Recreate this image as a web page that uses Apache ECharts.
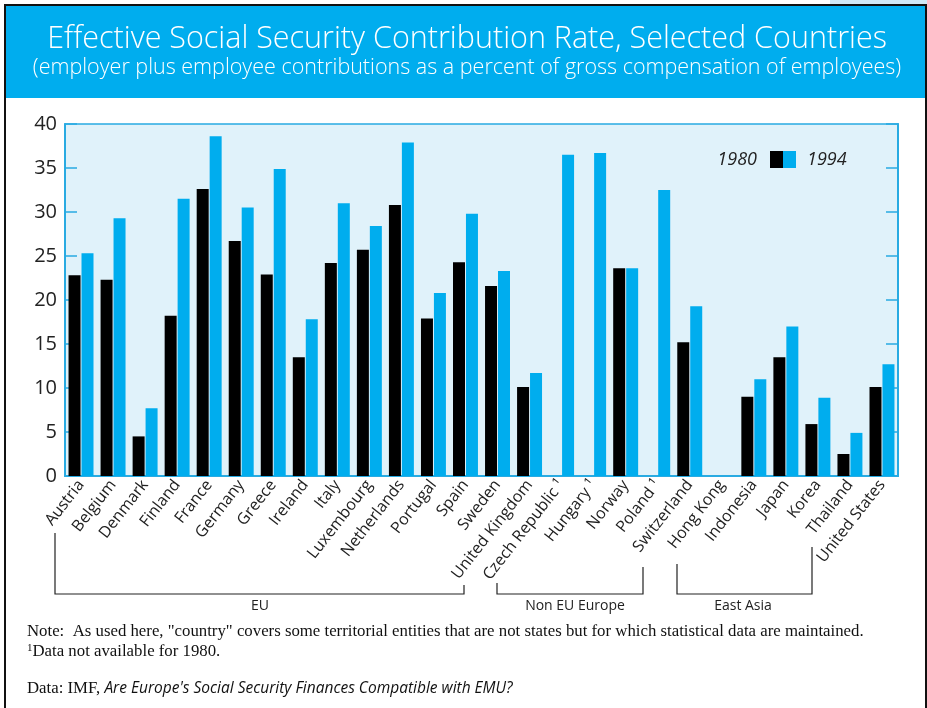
<!DOCTYPE html>
<html>
<head>
<meta charset="utf-8">
<script src="https://cdn.jsdelivr.net/npm/echarts@6/dist/echarts.min.js"></script>
<style>
html,body{margin:0;padding:0;background:#fff;}
#chart{width:927px;height:708px;}
</style>
</head>
<body>
<div id="chart"></div>
<script>
const categories = ["Austria","Belgium","Denmark","Finland","France","Germany","Greece","Ireland","Italy","Luxembourg","Netherlands","Portugal","Spain","Sweden","United Kingdom","Czech Republic \u00B9","Hungary \u00B9","Norway","Poland \u00B9","Switzerland","Hong Kong","Indonesia","Japan","Korea","Thailand","United States"];
const values1980 = [22.8,22.3,4.5,18.2,32.6,26.7,22.9,13.5,24.2,25.7,30.8,17.9,24.3,21.6,10.1,null,null,23.6,null,15.2,null,9.0,13.5,5.9,2.5,10.1];
const values1994 = [25.3,29.3,7.7,31.5,38.6,30.5,34.9,17.8,31.0,28.4,37.9,20.8,29.8,23.3,11.7,36.5,36.7,23.6,32.5,19.3,null,11.0,17.0,8.9,4.9,12.7];
const yTicks = [0,5,10,15,20,25,30,35,40];
const seriesNames = ["1980","1994"];
const groups = ["EU","Non EU Europe","East Asia"];

const BLUE = "#00adee";
const AXIS = "#29abe2";
const chart = echarts.init(document.getElementById('chart'), null, {renderer:'canvas'});
const sans = "'Open Sans','Noto Sans',sans-serif";
const serif = "'Liberation Serif','DejaVu Serif',serif";

const option = {
  animation:false,
  backgroundColor:'#fff',
  grid:{left:65,right:29,top:124,bottom:232,show:true,backgroundColor:'#e0f2fa',borderColor:AXIS,borderWidth:1.5},
  xAxis:{
    type:'category',
    data:categories,
    axisLine:{lineStyle:{color:AXIS,width:2}},
    axisTick:{inside:true,length:9,lineStyle:{color:AXIS,width:1.5}},
    axisLabel:{rotate:52,interval:0,margin:6,fontSize:16,color:'#222',fontFamily:sans}
  },
  yAxis:[{
    type:'value',min:yTicks[0],max:yTicks[yTicks.length-1],interval:5,
    axisLine:{show:true,lineStyle:{color:AXIS,width:2}},
    axisTick:{show:true,inside:true,length:12,lineStyle:{color:AXIS,width:1.5}},
    splitLine:{show:false},
    axisLabel:{fontSize:20,color:'#222',fontFamily:sans,margin:8}
  },{
    type:'value',position:'right',min:yTicks[0],max:yTicks[yTicks.length-1],interval:5,
    axisLine:{show:true,lineStyle:{color:AXIS,width:2}},
    axisTick:{show:true,inside:true,length:12,lineStyle:{color:AXIS,width:1.5}},
    splitLine:{show:false},
    axisLabel:{show:false}
  }],
  series:[
    {name:seriesNames[0],type:'bar',data:values1980,barWidth:12,barGap:'8%',itemStyle:{color:'#000'}},
    {name:seriesNames[1],type:'bar',data:values1994,barWidth:12,itemStyle:{color:BLUE}}
  ],
  graphic:[
    {type:'rect',shape:{x:830,y:0,width:97,height:5},style:{fill:'#cfe9f7'},silent:true},
    {type:'rect',shape:{x:6,y:6,width:919,height:92},style:{fill:BLUE},silent:true},
    {type:'polyline',shape:{points:[[5,708],[5,5],[926,5],[926,708]]},style:{stroke:'#111',lineWidth:2,fill:null},silent:true},
    {type:'text',x:467,y:39,style:{text:'Effective Social Security Contribution Rate, Selected Countries',fill:'#fff',font:"300 30.5px "+sans,textAlign:'center',textVerticalAlign:'middle'}},
    {type:'text',x:467,y:68,style:{text:'(employer plus employee contributions as a percent of gross compensation of employees)',fill:'#fff',font:"300 21.5px "+sans,textAlign:'center',textVerticalAlign:'middle'}},
    {type:'text',x:757,y:160,style:{text:seriesNames[0],fill:'#222',font:"italic 18px "+sans,textAlign:'right',textVerticalAlign:'middle'}},
    {type:'rect',shape:{x:770,y:151,width:13,height:17},style:{fill:'#000'}},
    {type:'rect',shape:{x:783,y:151,width:13,height:17},style:{fill:BLUE}},
    {type:'text',x:807,y:160,style:{text:seriesNames[1],fill:'#222',font:"italic 18px "+sans,textAlign:'left',textVerticalAlign:'middle'}},
    {type:'polyline',shape:{points:[[55,533],[55,594],[464,594],[464,585]]},style:{stroke:'#222',lineWidth:1.2,fill:null}},
    {type:'text',x:260,y:606,style:{text:groups[0],fill:'#222',font:"14px "+sans,textAlign:'center',textVerticalAlign:'middle'}},
    {type:'polyline',shape:{points:[[497,583],[497,594],[643,594],[643,567]]},style:{stroke:'#222',lineWidth:1.2,fill:null}},
    {type:'text',x:575,y:606,style:{text:groups[1],fill:'#222',font:"14px "+sans,textAlign:'center',textVerticalAlign:'middle'}},
    {type:'polyline',shape:{points:[[677,564],[677,594],[812,594],[812,547]]},style:{stroke:'#222',lineWidth:1.2,fill:null}},
    {type:'text',x:743,y:606,style:{text:groups[2],fill:'#222',font:"14px "+sans,textAlign:'center',textVerticalAlign:'middle'}},
    {type:'text',x:27,y:632,style:{text:'Note:  As used here, "country" covers some territorial entities that are not states but for which statistical data are maintained.',fill:'#111',font:"16.8px "+serif,textAlign:'left',textVerticalAlign:'middle'}},
    {type:'text',x:27,y:652,style:{text:'{s|1}Data not available for 1980.',rich:{s:{fontSize:11,verticalAlign:'top',fontFamily:serif,fill:'#111',padding:[0,0,8,0]}},fill:'#111',font:"16.8px "+serif,textAlign:'left',textVerticalAlign:'middle'}},
    {type:'text',x:27,y:689,style:{text:"{a|Data: IMF, }{b|Are Europe's Social Security Finances Compatible with EMU?}",rich:{a:{fontFamily:serif,fontSize:16.8,fill:'#111'},b:{fontFamily:sans,fontStyle:'italic',fontSize:15.5,fill:'#111'}},textAlign:'left',textVerticalAlign:'middle'}}
  ]
};
chart.setOption(option);
</script>
</body>
</html>
